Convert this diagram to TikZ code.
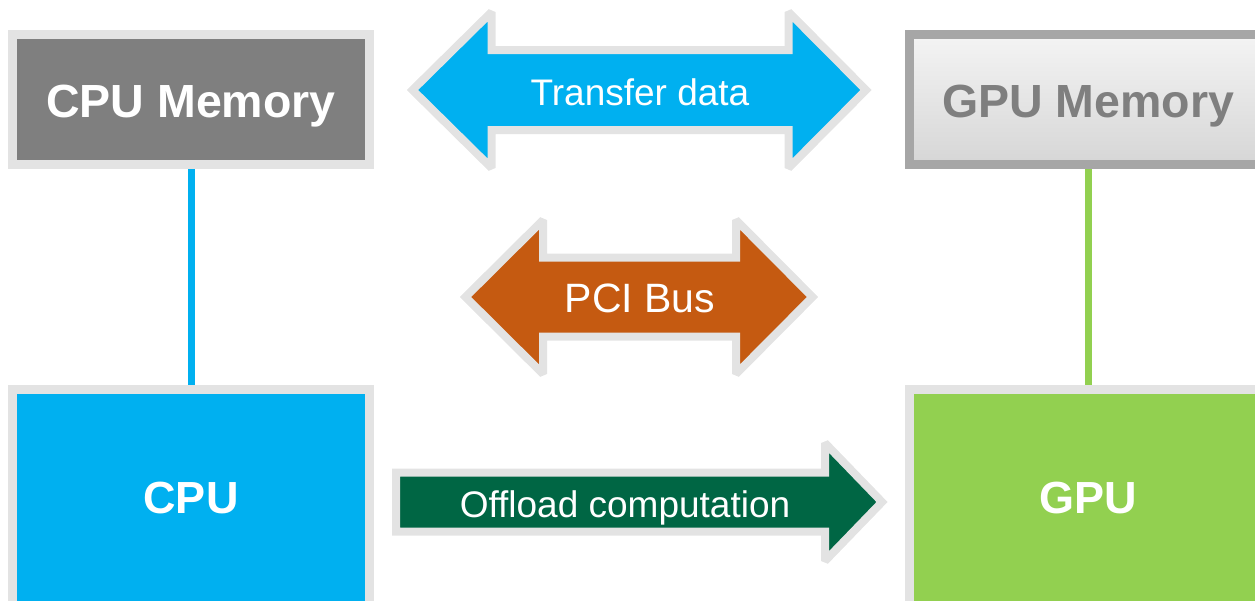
\documentclass[tikz,border=0pt]{standalone}
\usepackage{fontspec}
\setmainfont{Liberation Sans}
\definecolor{cpublue}{HTML}{00B0F0}
\definecolor{gpugreen}{HTML}{92D050}
\definecolor{memgray}{HTML}{7F7F7F}
\definecolor{pcibrown}{HTML}{C55A11}
\definecolor{offgreen}{HTML}{006644}
\definecolor{rimgray}{HTML}{E3E3E3}
\definecolor{gpurim}{HTML}{A6A6A6}
\definecolor{gmemtop}{HTML}{F4F4F4}
\definecolor{gmembot}{HTML}{D6D6D6}
\begin{document}
\begin{tikzpicture}[x=1pt,y=-1pt,
  box/.style={rectangle, draw=rimgray, line width=9pt, minimum width=357pt,
    inner sep=0pt},
  memlabel/.style={font=\bfseries\fontsize{46.5}{50}\selectfont, inner sep=0pt, anchor=base},
  chiplabel/.style={font=\bfseries\fontsize{45}{50}\selectfont, text=white, inner sep=0pt, anchor=base},
  arrowshape/.style={draw=rimgray, line width=8pt, line join=miter, miter limit=1.5},
  arrowtext/.style={text=white, inner sep=0pt, anchor=base},
  link/.style={line width=7pt}
]
\useasboundingbox (0,0) rectangle (1255,600);
\clip (0,0) rectangle (1255,600);

% memory boxes
\node[box, fill=memgray, minimum height=130.5pt] (cpumem) at (191,99.25) {};
\node[box, draw=gpurim, top color=gmemtop, bottom color=gmembot,
      minimum height=130.5pt] (gpumem) at (1088,99.25) {};
\node[memlabel, text=white] (cpumemlabel) at (191,117) {CPU Memory};
\node[memlabel, text=memgray] (gpumemlabel) at (1088,117) {GPU Memory};

% processor boxes
\node[box, fill=cpublue, minimum height=230pt] (cpu) at (191,504.5) {};
\node[box, fill=gpugreen, minimum height=230pt] (gpu) at (1088,504.5) {};
\node[chiplabel] (cpulabel) at (191,513) {CPU};
\node[chiplabel] (gpulabel) at (1088,513) {GPU};

% memory links
\draw[link, cpublue] (cpumem) -- (cpu);
\draw[link, gpugreen] (gpumem) -- (gpu);

% transfer data double arrow
\draw[arrowshape, fill=cpublue]
  (412.5,90) -- (491.5,12) -- (491.5,50) -- (788.5,50) -- (788.5,12) -- (866,90)
  -- (788.5,168) -- (788.5,130) -- (491.5,130) -- (491.5,168) -- cycle;
\node[arrowtext, font=\fontsize{37}{40}\selectfont] (transfer) at (640,105) {Transfer data};

% PCI bus double arrow
\draw[arrowshape, fill=pcibrown]
  (465.5,297) -- (543,220) -- (543,257.5) -- (736,257.5) -- (736,220) -- (812.5,297)
  -- (736,374) -- (736,336.5) -- (543,336.5) -- (543,374) -- cycle;
\node[arrowtext, font=\fontsize{41}{44}\selectfont] (pci) at (640,312) {PCI Bus};

% offload arrow
\draw[arrowshape, fill=offgreen]
  (396,472.5) -- (825,472.5) -- (825,443) -- (882,502) -- (825,561) -- (825,531.5)
  -- (396,531.5) -- cycle;
\node[arrowtext, font=\fontsize{37}{40}\selectfont] (offload) at (625,517) {Offload computation};
\end{tikzpicture}
\end{document}
